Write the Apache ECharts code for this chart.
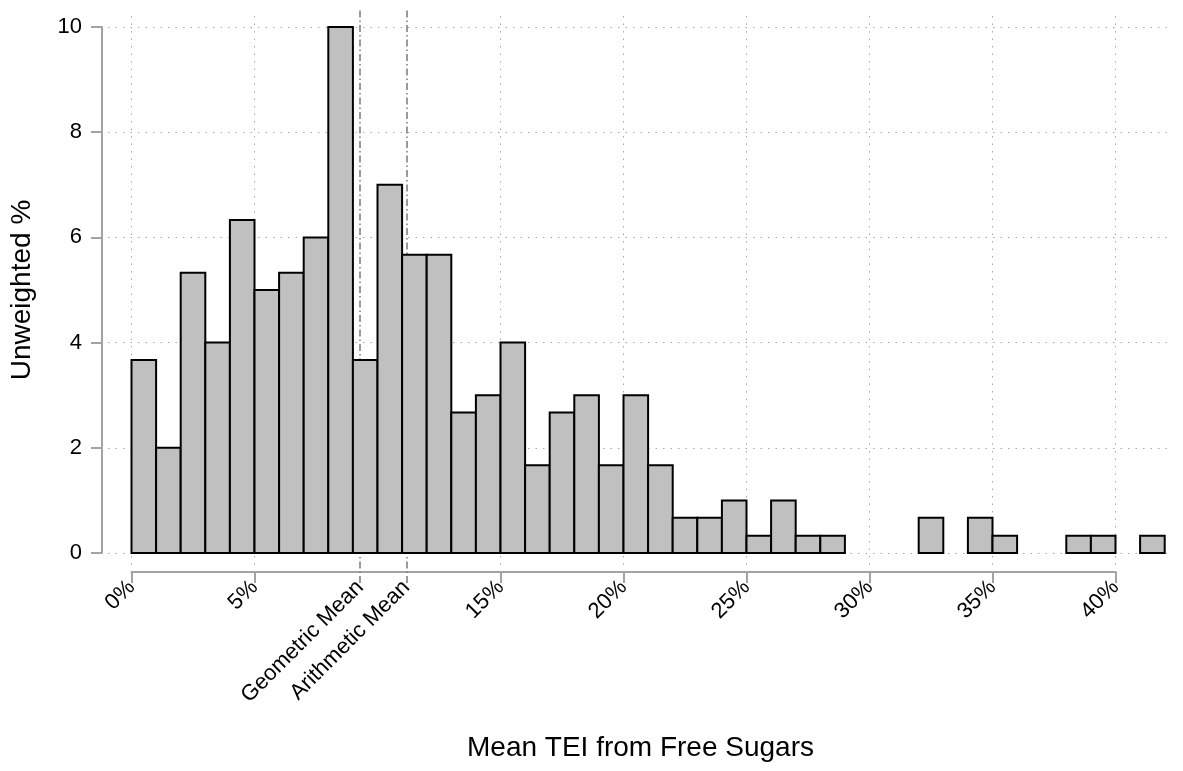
<!DOCTYPE html>
<html>
<head>
<meta charset="utf-8">
<script src="https://cdn.jsdelivr.net/npm/echarts@6/dist/echarts.min.js"></script>
<style>
  html, body { margin: 0; padding: 0; background: #fff; }
  #chart { width: 1183px; height: 771px; }
</style>
</head>
<body>
<div id="chart"></div>
<script>
// histogram bins, 1 percentage point wide
const binStart = [0, 1, 2, 3, 4, 5, 6, 7, 8, 9, 10, 11, 12, 13, 14, 15, 16, 17, 18, 19, 20,
  21, 22, 23, 24, 25, 26, 27, 28, 29, 30, 31, 32, 33, 34, 35, 36, 37, 38, 39, 40, 41]
const binPct = [3.67, 2, 5.33, 4, 6.33, 5, 5.33, 6, 10, 3.67, 7, 5.67, 5.67, 2.67, 3, 4, 1.67,
  2.67, 3, 1.67, 3, 1.67, 0.67, 0.67, 1, 0.33, 1, 0.33, 0.33, 0, 0, 0, 0.67, 0, 0.67, 0.33,
  0, 0, 0.33, 0.33, 0, 0.33]
const binWidth = 1

// reference lines
const geoMean = 9.29
const ariMean = 11.17

const xTicks = [0, 5, 15, 20, 25, 30, 35, 40]

const FONT = '"Liberation Sans", Arial, sans-serif'
const axisGray = '#a3a3a3'
const gridGray = '#a8a8a8'

const histData = binStart.map((s, i) => [s, s + binWidth, binPct[i]])

const chart = echarts.init(document.getElementById('chart'))

const option = {
  animation: false,
  backgroundColor: '#fff',
  grid: [
    // y axis + horizontal grid lines + x title
    { left: 108, right: 10, top: 27, bottom: 218 },
    // x axis + vertical grid lines
    { left: 131.5, right: 67.5, top: 12, bottom: 206 },
    // bars
    { left: 131.5, right: 67.5, top: 27, bottom: 218 },
    // mean lines
    { left: 131.5, right: 67.5, top: 8, bottom: 188 }
  ],
  xAxis: [
    {
      gridIndex: 0, type: 'value', min: 0, max: 1,
      axisLine: { show: false }, axisTick: { show: false },
      axisLabel: { show: false }, splitLine: { show: false },
      name: 'Mean TEI from Free Sugars',
      nameLocation: 'middle',
      nameGap: 181,
      nameTextStyle: { fontFamily: FONT, fontSize: 28, color: '#000' }
    },
    {
      gridIndex: 1, type: 'value', min: 0, max: 40,
      offset: 7,
      axisLine: { show: true, onZero: false, lineStyle: { color: axisGray, width: 2 } },
      axisTick: { show: true, length: 11, customValues: xTicks, lineStyle: { color: axisGray, width: 2 } },
      axisLabel: {
        customValues: xTicks.concat([geoMean, ariMean]),
        rotate: 45,
        margin: 12,
        fontFamily: FONT, fontSize: 22, color: '#000',
        formatter: v => v === geoMean ? 'Geometric Mean' : v === ariMean ? 'Arithmetic Mean' : v + '%'
      },
      splitLine: { show: false }
    },
    { gridIndex: 2, type: 'value', min: 0, max: 40, show: false },
    { gridIndex: 3, type: 'value', min: 0, max: 40, show: false }
  ],
  yAxis: [
    {
      gridIndex: 0, type: 'value', min: 0, max: 10, interval: 2,
      offset: 6,
      axisLine: { show: true, onZero: false, lineStyle: { color: axisGray, width: 2 } },
      axisTick: { show: true, length: 11, lineStyle: { color: axisGray, width: 2 } },
      axisLabel: { margin: 20, fontFamily: FONT, fontSize: 22, color: '#000' },
      splitLine: { show: true, lineStyle: { color: gridGray, width: 1, type: [1.5, 6] } },
      name: 'Unweighted %',
      nameLocation: 'middle',
      nameGap: 66,
      nameTextStyle: { fontFamily: FONT, fontSize: 28, color: '#000' }
    },
    { gridIndex: 1, type: 'value', min: 0, max: 1, show: false },
    { gridIndex: 2, type: 'value', min: 0, max: 10, show: false },
    { gridIndex: 3, type: 'value', min: 0, max: 1, show: false }
  ],
  series: [
    {
      // vertical dotted grid lines
      type: 'line', xAxisIndex: 1, yAxisIndex: 1, data: [], silent: true, z: 1,
      markLine: {
        symbol: 'none', silent: true, label: { show: false }, z: 1,
        lineStyle: { color: gridGray, width: 1, type: [1.5, 6] },
        data: xTicks.map(t => ({ xAxis: t }))
      }
    },
    {
      // mean lines
      type: 'line', xAxisIndex: 3, yAxisIndex: 3, data: [], silent: true, z: 2,
      markLine: {
        symbol: 'none', silent: true, label: { show: false }, z: 2,
        lineStyle: { color: '#7a7a7a', width: 1.5, type: [7, 3, 1.5, 3] },
        data: [{ xAxis: geoMean }, { xAxis: ariMean }]
      }
    },
    {
      type: 'custom', xAxisIndex: 2, yAxisIndex: 2, z: 10,
      data: histData,
      encode: { x: [0, 1], y: 2 },
      renderItem: (params, api) => {
        const v = api.value(2)
        if (!v) return null
        const p0 = api.coord([api.value(0), v])
        const p1 = api.coord([api.value(1), 0])
        return {
          type: 'rect',
          shape: { x: p0[0], y: p0[1], width: p1[0] - p0[0], height: p1[1] - p0[1] },
          style: { fill: '#c0c0c0', stroke: '#000', lineWidth: 2 }
        }
      }
    }
  ]
}

chart.setOption(option)
</script>
</body>
</html>
